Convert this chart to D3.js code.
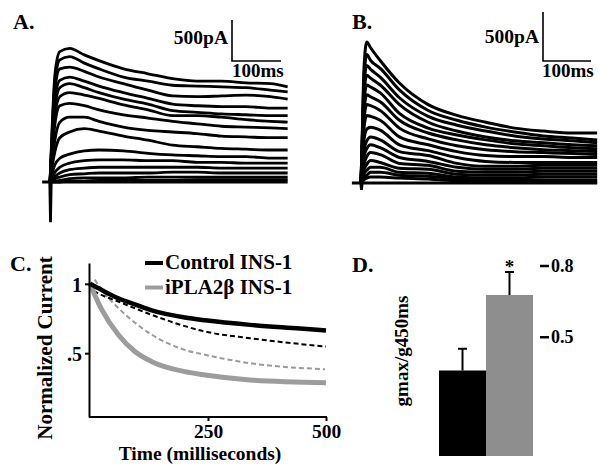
<!DOCTYPE html>
<html><head><meta charset="utf-8">
<script src="https://cdn.jsdelivr.net/npm/d3@7"></script>
<style>
body{margin:0;background:#fff}
svg text{font-family:"Liberation Serif","Times New Roman",serif;font-weight:bold;fill:#000}
</style>
</head><body>
<svg id="fig" width="605" height="469"></svg>
<script>
// ---------- DATA ----------
// Panel A: control INS-1 K+ current traces (pA) vs time (ms)
const timeA = [0, 5, 10, 20, 40, 70, 100, 150, 200, 250, 300, 350, 400, 450, 485];
const currentA = [
  [0, 760, 1310, 1590, 1630, 1550, 1480, 1380, 1320, 1260, 1230, 1230, 1210, 1200, 1160],
  [0, 700, 1220, 1490, 1530, 1450, 1380, 1280, 1230, 1180, 1170, 1160, 1150, 1120, 1100],
  [0, 630, 1120, 1380, 1400, 1350, 1280, 1200, 1120, 1050, 1040, 1050, 1060, 1040, 1010],
  [0, 570, 1000, 1240, 1280, 1230, 1170, 1090, 1020, 950, 930, 920, 920, 900, 900],
  [0, 510, 900, 1150, 1200, 1150, 1090, 1010, 950, 870, 850, 830, 820, 810, 810],
  [0, 450, 820, 1040, 1090, 1060, 1020, 940, 880, 810, 810, 790, 760, 740, 730],
  [0, 390, 700, 930, 960, 930, 880, 820, 780, 740, 710, 680, 670, 660, 650],
  [0, 290, 510, 730, 790, 790, 740, 670, 630, 610, 590, 560, 550, 540, 540],
  [0, 210, 370, 540, 610, 650, 620, 560, 510, 450, 430, 410, 400, 390, 390],
  [0, 120, 210, 290, 340, 380, 390, 380, 350, 330, 320, 310, 310, 290, 290],
  [0, 70, 120, 180, 230, 260, 270, 270, 260, 260, 240, 240, 230, 230, 230],
  [0, 50, 70, 110, 150, 170, 180, 180, 180, 180, 180, 170, 170, 170, 170],
  [0, 20, 40, 60, 90, 100, 110, 110, 110, 120, 120, 110, 110, 110, 110],
  [0, 10, 10, 20, 40, 50, 50, 50, 60, 60, 60, 60, 60, 60, 60],
  [0, 0, 0, 0, 10, 10, 20, 20, 20, 20, 30, 30, 30, 30, 30],
  [0, 0, 0, 0, 0, 0, 0, 0, 0, 0, 0, 0, 0, 0, 0]
];
const artifactTimeA = [-16, -0.5, 1, 2.5];
const artifactA = [0, 0, -490, 0];

// Panel B: iPLA2beta INS-1 traces (pA) vs time (ms)
const timeB = [0, 3, 6, 12, 20, 40, 80, 140, 200, 260, 320, 380, 440, 492];
const currentB = [
  [0, 570, 1150, 1440, 1380, 1250, 1020, 800, 690, 620, 560, 530, 510, 510],
  [0, 520, 1040, 1310, 1250, 1170, 950, 740, 640, 570, 520, 480, 460, 440],
  [0, 480, 960, 1200, 1160, 1080, 870, 680, 590, 530, 480, 450, 430, 410],
  [0, 440, 880, 1100, 1070, 1000, 800, 620, 530, 470, 430, 410, 390, 380],
  [0, 400, 800, 1000, 980, 920, 710, 560, 490, 440, 400, 380, 360, 350],
  [0, 360, 710, 900, 880, 830, 640, 510, 440, 390, 360, 340, 330, 320],
  [0, 320, 630, 800, 790, 740, 560, 450, 380, 340, 320, 310, 300, 290],
  [0, 280, 550, 690, 680, 640, 470, 390, 320, 280, 270, 270, 260, 260],
  [0, 200, 430, 550, 570, 540, 390, 330, 260, 220, 210, 210, 210, 210],
  [0, 150, 330, 430, 470, 440, 320, 280, 200, 170, 170, 180, 180, 180],
  [0, 110, 260, 350, 390, 360, 260, 220, 160, 140, 140, 150, 150, 150],
  [0, 80, 180, 270, 310, 290, 200, 180, 120, 110, 110, 120, 120, 120],
  [0, 60, 130, 190, 230, 210, 150, 140, 90, 80, 80, 90, 90, 90],
  [0, 40, 90, 130, 160, 160, 110, 100, 60, 50, 50, 60, 60, 60],
  [0, 20, 50, 80, 110, 110, 80, 70, 40, 30, 30, 30, 30, 30],
  [0, 10, 30, 50, 60, 60, 50, 40, 20, 10, 10, 10, 10, 10],
  [0, 0, 0, 0, 0, 0, 0, 0, 0, 0, 0, 0, 0, 0]
];
const artifactTimeB = [-19, -0.5, 1, 2.5];
const artifactB = [0, 0, -70, 0];

const scaleBarCurrent = 500; // pA
const scaleBarTime = 100;    // ms

// Panel C: normalized current decay fits
const timeCtrlSolid = [0, 25, 60, 95, 131, 201, 244, 339, 445, 500];
const ctrlSolid     = [1, 0.955, 0.896, 0.852, 0.808, 0.757, 0.737, 0.704, 0.678, 0.664];
const timeCtrlDash  = [8, 18, 60, 131, 201, 244, 339, 420, 500];
const ctrlDash      = [0.95, 0.93, 0.872, 0.776, 0.695, 0.656, 0.608, 0.575, 0.548];
const timePlaSolid  = [0, 10, 25, 60, 95, 131, 201, 244, 339, 500];
const plaSolid      = [1, 0.92, 0.814, 0.633, 0.512, 0.439, 0.367, 0.343, 0.307, 0.287];
const timePlaDash   = [10, 25, 60, 131, 201, 244, 339, 498];
const plaDash       = [1.03, 0.955, 0.826, 0.633, 0.524, 0.488, 0.428, 0.384];
const legendC = ["Control INS-1", "iPLA2β INS-1"];
const ticksCx = [250, 500];
const ticksCy = [0.5, 1];
const tickLabelsCy = [".5", "1"];

// Panel D: gmax/g450ms
const groupsD = ["Control INS-1", "iPLA2β INS-1"];
const meansD = [0.36, 0.678];
const semD = [0.092, 0.097];
const ticksD = [0.5, 0.8];

// ---------- DRAW ----------
const svg = d3.select("#fig");
const label = (x, y, t, size, anchor) => svg.append("text").attr("x", x).attr("y", y)
  .attr("text-anchor", anchor || "start").style("font-size", size + "px").text(t);

// Panel A
const xA = d3.scaleLinear().domain([0, 100]).range([50, 99]);
const yA = d3.scaleLinear().domain([0, 500]).range([182, 141]);
const lineA = d3.line().x(d => xA(d[0])).y(d => yA(d[1])).curve(d3.curveMonotoneX);
const gA = svg.append("g");
gA.append("path").datum(artifactTimeA.map((t, i) => [t, artifactA[i]]))
  .attr("d", d3.line().x(d => xA(d[0])).y(d => yA(d[1])))
  .attr("fill", "none").attr("stroke", "#000").attr("stroke-width", 2.8);
gA.selectAll("path.tr").data(currentA).join("path").attr("class", "tr")
  .attr("d", v => lineA(v.map((c, i) => [timeA[i], c])))
  .attr("fill", "none").attr("stroke", "#000").attr("stroke-width", 2.8).attr("stroke-linejoin", "round");

// Panel B
const xB = d3.scaleLinear().domain([0, 100]).range([361, 409]);
const yB = d3.scaleLinear().domain([0, 500]).range([183, 134]);
const lineB = d3.line().x(d => xB(d[0])).y(d => yB(d[1])).curve(d3.curveMonotoneX);
const gB = svg.append("g");
gB.append("path").datum(artifactTimeB.map((t, i) => [t, artifactB[i]]))
  .attr("d", d3.line().x(d => xB(d[0])).y(d => yB(d[1])))
  .attr("fill", "none").attr("stroke", "#000").attr("stroke-width", 2.8);
gB.selectAll("path.tr").data(currentB).join("path").attr("class", "tr")
  .attr("d", v => lineB(v.map((c, i) => [timeB[i], c])))
  .attr("fill", "none").attr("stroke", "#000").attr("stroke-width", 3).attr("stroke-linejoin", "round");

// scale bars
function scaleBar(x0, yBase, xs, ys) {
  const h = ys(0) - ys(scaleBarCurrent);
  const w = xs(scaleBarTime) - xs(0);
  svg.append("path").attr("d", `M${x0},${yBase - h}V${yBase}H${x0 + w}`)
    .attr("fill", "none").attr("stroke", "#000").attr("stroke-width", 1.6);
}
scaleBar(232, 61, xA, yA);
scaleBar(543, 61, xB, yB);
label(228, 44, scaleBarCurrent + "pA", 19.5, "end");
label(232, 77, scaleBarTime + "ms", 19);
label(539, 43, scaleBarCurrent + "pA", 19.5, "end");
label(542, 77, scaleBarTime + "ms", 19);

label(13, 29, "A.", 22);
label(352, 29, "B.", 22);
label(10, 271, "C.", 22);
label(352, 272, "D.", 22);

// Panel C
const xC = d3.scaleLinear().domain([0, 500]).range([90, 326]);
const yC = d3.scaleLinear().domain([0.04, 1.15]).range([417, 263]);
const lineC = d3.line().x(d => xC(d[0])).y(d => yC(d[1])).curve(d3.curveMonotoneX);
const gC = svg.append("g");
const series = [
  {t: timePlaDash, v: plaDash, c: "#9a9a9a", w: 2, dash: "5,3"},
  {t: timeCtrlDash, v: ctrlDash, c: "#000", w: 2, dash: "5,3"},
  {t: timePlaSolid, v: plaSolid, c: "#9c9c9c", w: 5, dash: null},
  {t: timeCtrlSolid, v: ctrlSolid, c: "#000", w: 4.5, dash: null}
];
gC.selectAll("path.s").data(series).join("path").attr("class", "s")
  .attr("d", s => lineC(s.t.map((t, i) => [t, s.v[i]])))
  .attr("fill", "none").attr("stroke", s => s.c).attr("stroke-width", s => s.w)
  .attr("stroke-dasharray", s => s.dash);

const axL = gC.append("g").attr("transform", "translate(89,0)")
  .call(d3.axisLeft(yC).tickValues(ticksCy).tickFormat((d, i) => tickLabelsCy[i]).tickSize(4).tickSizeOuter(0).tickPadding(3));
const axB = gC.append("g").attr("transform", "translate(0,417)")
  .call(d3.axisBottom(xC).tickValues(ticksCx).tickSize(4).tickSizeOuter(0).tickPadding(3));
axB.select(".domain").attr("d", `M89,0H${xC(500) + 1}`);
[axL, axB].forEach(a => {
  a.selectAll("path,line").attr("stroke", "#000").attr("stroke-width", 2);
  a.selectAll("text").style("font-size", "20px").style("font-family", '"Liberation Serif",serif').attr("fill", "#000");
});
axB.selectAll("text").style("font-size", "19.5px");
axL.selectAll("text").attr("dy", "0.36em");

svg.append("text").attr("x", 200).attr("y", 460).attr("text-anchor", "middle").style("font-size", "19.5px").text("Time (milliseconds)");
svg.append("text").attr("transform", "translate(52,348) rotate(-90)").attr("text-anchor", "middle").style("font-size", "21px").text("Normalized Current");

// legend C
const legColors = ["#000", "#9c9c9c"];
legendC.forEach((name, i) => {
  const y = 263 + i * 24.5;
  svg.append("line").attr("x1", 145).attr("x2", 163).attr("y1", y).attr("y2", y)
    .attr("stroke", legColors[i]).attr("stroke-width", 4);
  label(165, y + 6, name, 21);
});

// Panel D
const xD = d3.scaleBand().domain(groupsD).range([439, 533]).padding(0);
const yD = d3.scaleLinear().domain([0, 0.8]).range([456, 266]);
const barColors = ["#000", "#8e8e8e"];
const gD = svg.append("g");
gD.selectAll("rect").data(groupsD).join("rect")
  .attr("x", d => xD(d)).attr("width", xD.bandwidth())
  .attr("y", (d, i) => yD(meansD[i])).attr("height", (d, i) => yD(0) - yD(meansD[i]))
  .attr("fill", (d, i) => barColors[i]);
groupsD.forEach((g, i) => {
  const cx = xD(g) + xD.bandwidth() / 2;
  const top = yD(meansD[i] + semD[i]);
  gD.append("path").attr("d", `M${cx},${yD(meansD[i])}V${top}M${cx - 4.5},${top}H${cx + 4.5}`)
    .attr("stroke", "#000").attr("stroke-width", 2).attr("fill", "none");
  if (i === 1) gD.append("text").attr("x", cx).attr("y", top + 1).attr("text-anchor", "middle").style("font-size", "19px").text("*");
});
ticksD.forEach(t => {
  gD.append("line").attr("x1", 540).attr("x2", 549).attr("y1", yD(t)).attr("y2", yD(t)).attr("stroke", "#000").attr("stroke-width", 2.5);
  gD.append("text").attr("x", 551).attr("y", yD(t) + 6).style("font-size", "18px").text(d3.format(".1f")(t));
});
svg.append("text").attr("transform", "translate(408,351) rotate(-90)").attr("text-anchor", "middle").style("font-size", "19px").text("gmax/g450ms");
</script>
</body></html>
